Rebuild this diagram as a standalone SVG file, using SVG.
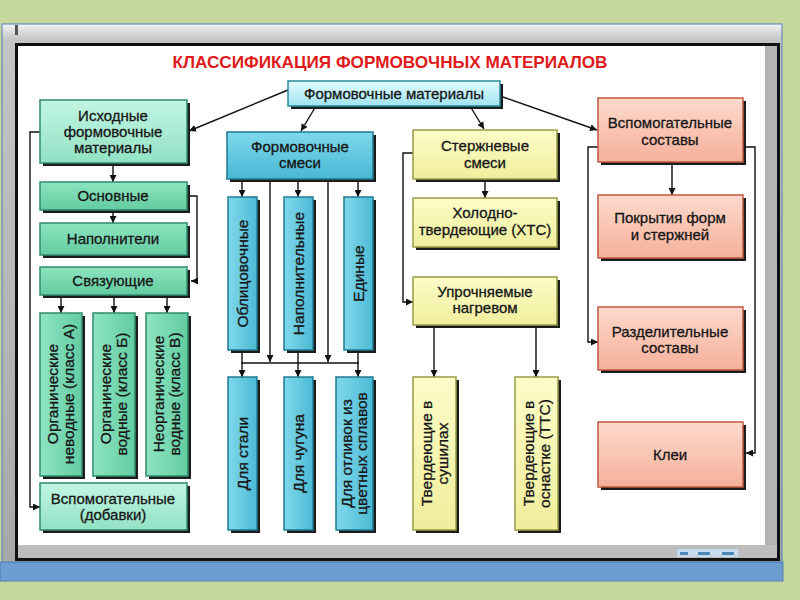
<svg xmlns="http://www.w3.org/2000/svg" width="800" height="600" viewBox="0 0 800 600">
<defs>
<linearGradient id="gMint" x1="0" y1="0" x2="0" y2="1"><stop offset="0" stop-color="#c2f5e2"/><stop offset="1" stop-color="#92e2c4"/></linearGradient>
<linearGradient id="gGreen" x1="0" y1="0" x2="0" y2="1"><stop offset="0" stop-color="#8ee4c0"/><stop offset="1" stop-color="#62cc9f"/></linearGradient>
<linearGradient id="gGreenV" x1="0" y1="0" x2="1" y2="0"><stop offset="0" stop-color="#8ee4c2"/><stop offset="1" stop-color="#62cca2"/></linearGradient>
<linearGradient id="gCyanL" x1="0" y1="0" x2="0" y2="1"><stop offset="0" stop-color="#e4fdff"/><stop offset="1" stop-color="#9fe4f0"/></linearGradient>
<linearGradient id="gCyan" x1="0" y1="0" x2="0" y2="1"><stop offset="0" stop-color="#7ed8ec"/><stop offset="1" stop-color="#48b8d4"/></linearGradient>
<linearGradient id="gCyanV" x1="0" y1="0" x2="1" y2="0"><stop offset="0" stop-color="#80d8ec"/><stop offset="1" stop-color="#4cbad4"/></linearGradient>
<linearGradient id="gYel" x1="0" y1="0" x2="0" y2="1"><stop offset="0" stop-color="#fcfcc8"/><stop offset="1" stop-color="#f0ee9c"/></linearGradient>
<linearGradient id="gPink" x1="0" y1="0" x2="0" y2="1"><stop offset="0" stop-color="#fddacc"/><stop offset="1" stop-color="#f5b09a"/></linearGradient>
<linearGradient id="gFrame" x1="0" y1="0" x2="0" y2="1"><stop offset="0" stop-color="#f2f2f2"/><stop offset="0.03" stop-color="#c4c4c4"/><stop offset="1" stop-color="#a8a8a8"/></linearGradient>
<marker id="ar" markerWidth="7" markerHeight="7" refX="7" refY="3.5" orient="auto" markerUnits="userSpaceOnUse"><path d="M0,0 L7,3.5 L0,7 z" fill="#111"/></marker>
</defs>
<style>
.sh{fill:#1c1c1c}
.mint .bx{fill:url(#gMint);stroke:#2f8c6c;stroke-width:1.5}
.green .bx{fill:url(#gGreen);stroke:#2f8c6c;stroke-width:1.5}
.greenv .bx{fill:url(#gGreenV);stroke:#2f8c6c;stroke-width:1.5}
.cyanl .bx{fill:url(#gCyanL);stroke:#2a8aa0;stroke-width:1.5}
.cyan .bx{fill:url(#gCyan);stroke:#1f7a90;stroke-width:1.5}
.cyanv .bx{fill:url(#gCyanV);stroke:#1f7a90;stroke-width:1.5}
.yel .bx{fill:url(#gYel);stroke:#9a9a48;stroke-width:1.5}
.pink .bx{fill:url(#gPink);stroke:#c0583e;stroke-width:1.5}
.t,.tv{font-family:"Liberation Sans",Arial,sans-serif;font-size:15px;fill:#161616;stroke:#161616;stroke-width:0.3;text-anchor:middle}
.tv{font-size:15.5px}
.title{font-family:"Liberation Sans",Arial,sans-serif;font-size:17px;font-weight:bold;fill:#e01a1a;text-anchor:middle}
#connectors path,#connectors line{stroke:#111;stroke-width:1.4;fill:none}
.a{marker-end:url(#ar)}
</style>
<!-- background and window frame -->
<rect x="0" y="0" width="800" height="600" fill="#c6d89c"/>
<rect x="0" y="562" width="783" height="19" fill="#6e9dcf" stroke="#4f7fb8" stroke-width="1"/>
<rect x="2" y="24" width="780" height="538" fill="url(#gFrame)" stroke="#4f7fbf" stroke-width="1"/>
<rect x="15" y="25" width="3" height="10" fill="#555"/>
<rect x="16.5" y="44.5" width="762" height="515" fill="none" stroke="#111" stroke-width="3"/>
<rect x="18" y="46" width="747" height="499" fill="#ffffff"/>
<rect x="765" y="46" width="12" height="512" fill="#b4b4b4"/>
<rect x="18" y="545" width="759" height="13" fill="#bdbdbd"/>
<rect x="677" y="549" width="61" height="8" fill="#c9dbea"/>
<rect x="680" y="552" width="8" height="3" fill="#4f86b8"/>
<rect x="698" y="552" width="12" height="3" fill="#4f86b8"/>
<rect x="722" y="552" width="12" height="3" fill="#4f86b8"/>
<text class="title" x="390" y="68" textLength="435" lengthAdjust="spacingAndGlyphs">КЛАССИФИКАЦИЯ ФОРМОВОЧНЫХ МАТЕРИАЛОВ</text>

<g id="connectors">
<line class="a" x1="288" y1="90" x2="189" y2="131"/>
<line class="a" x1="316" y1="106" x2="301" y2="131"/>
<line class="a" x1="470" y1="106" x2="484" y2="129"/>
<line class="a" x1="500" y1="96" x2="597" y2="130"/>
<line class="a" x1="113" y1="166" x2="113" y2="182"/>
<line class="a" x1="113" y1="213" x2="113" y2="223"/>
<path class="a" d="M190,196 H197 V281 H191"/>
<path class="a" d="M40,132 H30 V507 H40"/>
<line class="a" x1="61" y1="298" x2="61" y2="313"/>
<line class="a" x1="114" y1="298" x2="114" y2="313"/>
<line class="a" x1="167" y1="298" x2="167" y2="313"/>
<line class="a" x1="242" y1="182" x2="242" y2="197"/>
<line class="a" x1="298" y1="182" x2="298" y2="197"/>
<line class="a" x1="358" y1="182" x2="358" y2="197"/>
<line class="a" x1="270" y1="182" x2="270" y2="362"/>
<line class="a" x1="328" y1="182" x2="328" y2="362"/>
<line x1="242" y1="353" x2="242" y2="363"/>
<line x1="298" y1="353" x2="298" y2="363"/>
<line x1="358" y1="353" x2="358" y2="363"/>
<line x1="241" y1="363" x2="359" y2="363"/>
<line class="a" x1="242" y1="363" x2="242" y2="377"/>
<line class="a" x1="298" y1="363" x2="298" y2="377"/>
<line class="a" x1="358" y1="363" x2="358" y2="377"/>
<line class="a" x1="485" y1="182" x2="485" y2="198"/>
<path class="a" d="M413,153 H403 V302 H413"/>
<line class="a" x1="434" y1="328" x2="434" y2="377"/>
<line class="a" x1="536" y1="328" x2="536" y2="377"/>
<line class="a" x1="672" y1="165" x2="672" y2="195"/>
<path class="a" d="M598,147 H588 V342 H598"/>
<path class="a" d="M746,147 H755 V453 H746"/>
</g>

<g id="n-top" class="cyanl"><rect class="sh" x="291" y="84" width="212" height="25"/><rect class="bx" x="288" y="81" width="212" height="25"/><text class="t" x="394" y="99">Формовочные материалы</text></g>

<g id="n-ishodnye" class="mint"><rect class="sh" x="43" y="103" width="147" height="63"/><rect class="bx" x="40" y="100" width="147" height="63"/><text class="t" x="113" y="121">Исходные</text><text class="t" x="113" y="137">формовочные</text><text class="t" x="113" y="153">материалы</text></g>
<g id="n-osnovnye" class="green"><rect class="sh" x="43" y="185" width="147" height="28"/><rect class="bx" x="40" y="182" width="147" height="28"/><text class="t" x="113" y="201">Основные</text></g>
<g id="n-napolniteli" class="green"><rect class="sh" x="43" y="226" width="147" height="32"/><rect class="bx" x="40" y="223" width="147" height="32"/><text class="t" x="113" y="244">Наполнители</text></g>
<g id="n-svyazuyushie" class="green"><rect class="sh" x="43" y="270" width="147" height="28"/><rect class="bx" x="40" y="267" width="147" height="28"/><text class="t" x="113" y="286">Связующие</text></g>
<g id="n-klassA" class="greenv"><rect class="sh" x="43" y="316" width="42" height="163"/><rect class="bx" x="40" y="313" width="42" height="163"/><g transform="rotate(-90 61 394)"><text class="tv" x="61" y="391">Органические</text><text class="tv" x="61" y="407">неводные (класс А)</text></g></g>
<g id="n-klassB" class="greenv"><rect class="sh" x="96" y="316" width="42" height="163"/><rect class="bx" x="93" y="313" width="42" height="163"/><g transform="rotate(-90 114 394)"><text class="tv" x="114" y="391">Органические</text><text class="tv" x="114" y="407">водные (класс Б)</text></g></g>
<g id="n-klassV" class="greenv"><rect class="sh" x="149" y="316" width="42" height="163"/><rect class="bx" x="146" y="313" width="42" height="163"/><g transform="rotate(-90 167 394)"><text class="tv" x="167" y="391">Неорганические</text><text class="tv" x="167" y="407">водные (класс В)</text></g></g>
<g id="n-dobavki" class="mint"><rect class="sh" x="43" y="486" width="147" height="47"/><rect class="bx" x="40" y="483" width="147" height="47"/><text class="t" x="113" y="504">Вспомогательные</text><text class="t" x="113" y="520">(добавки)</text></g>

<g id="n-smesi" class="cyan"><rect class="sh" x="230" y="135" width="146" height="47"/><rect class="bx" x="227" y="132" width="146" height="47"/><text class="t" x="300" y="152">Формовочные</text><text class="t" x="300" y="168">смеси</text></g>
<g id="n-oblic" class="cyanv"><rect class="sh" x="231" y="200" width="29" height="153"/><rect class="bx" x="228" y="197" width="29" height="153"/><text class="tv" x="242.5" y="279" transform="rotate(-90 242.5 273.5)">Облицовочные</text></g>
<g id="n-napoln" class="cyanv"><rect class="sh" x="287" y="200" width="29" height="153"/><rect class="bx" x="284" y="197" width="29" height="153"/><text class="tv" x="298.5" y="279" transform="rotate(-90 298.5 273.5)">Наполнительные</text></g>
<g id="n-edinye" class="cyanv"><rect class="sh" x="347" y="200" width="29" height="153"/><rect class="bx" x="344" y="197" width="29" height="153"/><text class="tv" x="358.5" y="279" transform="rotate(-90 358.5 273.5)">Единые</text></g>
<g id="n-stal" class="cyanv"><rect class="sh" x="231" y="380" width="29" height="153"/><rect class="bx" x="228" y="377" width="29" height="153"/><text class="tv" x="242.5" y="459" transform="rotate(-90 242.5 453.5)">Для стали</text></g>
<g id="n-chugun" class="cyanv"><rect class="sh" x="287" y="380" width="29" height="153"/><rect class="bx" x="284" y="377" width="29" height="153"/><text class="tv" x="298.5" y="459" transform="rotate(-90 298.5 453.5)">Для чугуна</text></g>
<g id="n-cvetnye" class="cyanv"><rect class="sh" x="339" y="380" width="37" height="153"/><rect class="bx" x="336" y="377" width="37" height="153"/><g transform="rotate(-90 354.5 453.5)"><text class="tv" x="354.5" y="451">Для отливок из</text><text class="tv" x="354.5" y="466">цветных сплавов</text></g></g>

<g id="n-sterzh" class="yel"><rect class="sh" x="416" y="133" width="144" height="49"/><rect class="bx" x="413" y="130" width="144" height="49"/><text class="t" x="485" y="151">Стержневые</text><text class="t" x="485" y="168">смеси</text></g>
<g id="n-hts" class="yel"><rect class="sh" x="416" y="201" width="144" height="49"/><rect class="bx" x="413" y="198" width="144" height="49"/><text class="t" x="485" y="218">Холодно-</text><text class="t" x="485" y="235">твердеющие (ХТС)</text></g>
<g id="n-uprochn" class="yel"><rect class="sh" x="416" y="280" width="144" height="48"/><rect class="bx" x="413" y="277" width="144" height="48"/><text class="t" x="485" y="297">Упрочняемые</text><text class="t" x="485" y="313">нагревом</text></g>
<g id="n-sushila" class="yel"><rect class="sh" x="416" y="380" width="43" height="153"/><rect class="bx" x="413" y="377" width="43" height="153"/><g transform="rotate(-90 434.5 453.5)"><text class="tv" x="434.5" y="451">Твердеющие в</text><text class="tv" x="434.5" y="467">сушилах</text></g></g>
<g id="n-osnastka" class="yel"><rect class="sh" x="518" y="380" width="43" height="153"/><rect class="bx" x="515" y="377" width="43" height="153"/><g transform="rotate(-90 536.5 453.5)"><text class="tv" x="536.5" y="451">Твердеющие в</text><text class="tv" x="536.5" y="467">оснастке (ТТС)</text></g></g>

<g id="n-vspom" class="pink"><rect class="sh" x="601" y="101" width="145" height="64"/><rect class="bx" x="598" y="98" width="145" height="64"/><text class="t" x="670" y="128">Вспомогательные</text><text class="t" x="670" y="145">составы</text></g>
<g id="n-pokrytiya" class="pink"><rect class="sh" x="601" y="198" width="145" height="63"/><rect class="bx" x="598" y="195" width="145" height="63"/><text class="t" x="670" y="223">Покрытия форм</text><text class="t" x="670" y="240">и стержней</text></g>
<g id="n-razdel" class="pink"><rect class="sh" x="601" y="310" width="145" height="63"/><rect class="bx" x="598" y="307" width="145" height="63"/><text class="t" x="670" y="337">Разделительные</text><text class="t" x="670" y="353">составы</text></g>
<g id="n-klei" class="pink"><rect class="sh" x="601" y="425" width="145" height="65"/><rect class="bx" x="598" y="422" width="145" height="65"/><text class="t" x="670" y="460">Клеи</text></g>
</svg>
